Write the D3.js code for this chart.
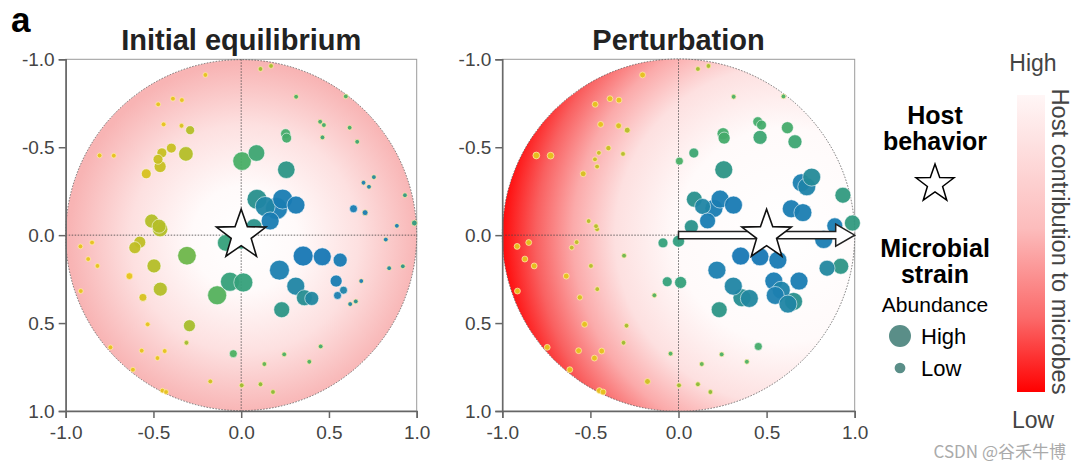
<!DOCTYPE html>
<html>
<head>
<meta charset="utf-8">
<script src="https://cdn.jsdelivr.net/npm/d3@7"></script>
<style>
  html, body { margin: 0; padding: 0; background: #fff; }
  svg { display: block; font-family: "Liberation Sans", Arial, sans-serif; }
</style>
</head>
<body>
<svg id="chart" width="1080" height="471"></svg>
<script>
// ---------------- DATA ----------------
const panelTitles = ["Initial equilibrium", "Perturbation"];
const tickValues = [-1.0, -0.5, 0.0, 0.5, 1.0];
const hostPosition = [[0, 0], [0.5, 0]];        // star position per panel
const hostShift = [0, 1.0];                      // arrow from / to (perturbation)
// each row: [x, y, hue (0 blue .. 1 yellow), abundance initial, abundance perturbed]
const yellowStrains = [
  [-0.204,-0.911,1.0,4,6], [-0.473,-0.744,1.0,4,6], [-0.389,-0.776,1.0,4,6],
  [-0.338,-0.768,1.0,4,6], [-0.442,-0.630,1.0,4,6], [-0.340,-0.622,0.95,4,6],
  [-0.291,-0.597,0.85,14,6], [-0.807,-0.453,1.0,4,8], [-0.726,-0.452,1.0,4,8],
  [-0.398,-0.495,0.9,17,5], [-0.452,-0.468,0.9,17,4], [-0.474,-0.431,0.9,17,4],
  [-0.462,-0.390,0.9,25,4], [-0.315,-0.462,0.85,37,4], [-0.541,-0.349,0.95,17,6],
  [-0.510,-0.080,0.85,34,4], [-0.462,-0.034,0.85,41,4], [-0.468,-0.051,0.85,34,4],
  [-0.578,0.040,0.88,25,4], [-0.606,0.071,0.88,25,4], [-0.916,0.064,1,4,6],
  [-0.850,0.042,1,4,6], [-0.872,0.136,1,4,6], [-0.819,0.175,1,4,6],
  [-0.914,0.318,1,4,6], [-0.637,0.233,1,8,6], [-0.497,0.175,0.85,34,4],
  [-0.560,0.354,0.95,11,5], [-0.461,0.307,0.85,34,4], [-0.533,0.507,1,4,6],
  [-0.745,0.638,1,4,6], [-0.567,0.657,1,4,6], [-0.436,0.659,1,4,6],
  [-0.477,0.699,1,4,6], [-0.617,0.765,1,4,6], [-0.449,0.884,1,4,6],
  [-0.428,0.892,1,4,6], [-0.176,0.832,0.92,4,6], [-0.295,0.515,0.82,25,4],
  [-0.312,0.612,0.8,4,4]
];
const greenStrains = [
  [0.110,-0.945,0.8,4,4], [0.170,-0.962,0.82,4,4], [0.313,-0.787,0.6,4,4],
  [0.596,-0.789,0.6,4,4], [0.005,-0.421,0.58,60,11], [0.087,-0.467,0.5,48,17],
  [0.450,-0.645,0.55,4,17], [0.471,-0.626,0.55,4,17], [0.253,-0.577,0.55,17,25],
  [0.259,-0.552,0.55,17,25], [0.463,-0.556,0.5,4,34], [0.618,-0.611,0.55,4,25],
  [0.661,-0.531,0.5,4,34], [-0.309,0.117,0.68,60,4], [-0.137,0.342,0.62,63,4],
  [-0.045,0.674,0.6,11,4], [0.003,0.854,0.8,4,4], [0.110,0.848,0.75,4,4],
  [0.181,0.892,0.75,4,4], [0.132,0.733,0.65,4,4], [0.245,0.678,0.6,4,4],
  [0.388,0.720,0.6,4,4], [0.453,0.633,0.55,4,11]
];
const tealStrains = [
  [0.257,-0.372,0.35,53,56], [0.933,-0.227,0.4,4,44], [0.987,-0.069,0.4,6,44],
  [0.090,-0.204,0.3,69,44], [0.073,-0.048,0.32,44,34], [-0.088,0.044,0.45,48,17],
  [0.000,0.034,0.42,44,25], [-0.064,0.265,0.45,63,17], [0.012,0.269,0.45,63,25],
  [0.231,0.424,0.35,44,44], [0.360,0.356,0.28,44,56], [0.653,0.377,0.3,4,56],
  [0.921,0.177,0.35,4,44]
];
const blueStrains = [
  [0.697,-0.298,0.15,4,56], [0.728,-0.275,0.18,4,56], [0.756,-0.330,0.25,4,56],
  [0.887,-0.053,0.1,4,44], [0.640,-0.150,0.1,11,56], [0.706,-0.128,0.12,6,56],
  [0.137,-0.163,0.2,69,44], [0.201,-0.152,0.1,84,56], [0.236,-0.205,0.1,69,56],
  [0.312,-0.171,0.08,56,56], [0.165,-0.081,0.1,56,44], [0.353,0.119,0.05,69,56],
  [0.462,0.123,0.05,56,56], [0.564,0.142,0.08,34,56], [0.218,0.199,0.15,69,56],
  [0.311,0.290,0.2,56,56], [0.402,0.360,0.22,34,56], [0.541,0.261,0.1,25,56],
  [0.583,0.313,0.18,11,56], [0.549,0.343,0.15,11,56], [0.684,0.261,0.1,4,56],
  [0.621,0.392,0.2,4,56], [0.824,0.025,0.1,4,56], [0.843,0.188,0.22,4,44]
];
const legendAbundance = [["High", 84], ["Low", 20]];
const colorbarLabels = ["High", "Low"];

// ---------------- DRAW ----------------
const svg = d3.select("#chart");
const defs = svg.append("defs");
const strains = [].concat(yellowStrains, greenStrains, tealStrains, blueStrains);

const hueColor = d3.scaleLinear()
  .domain([0, 0.15, 0.3, 0.45, 0.6, 0.75, 0.9, 1.0])
  .range(["#1473b6", "#1c80b0", "#288f8c", "#35a07a", "#4cb062", "#8bbb35", "#c8bf22", "#e6c31c"])
  .interpolate(d3.interpolateRgb);
const rScale = d3.scaleSqrt().domain([0, 100]).range([0, 12]);

const yScale = d3.scaleLinear().domain([-1, 1]).range([59.3, 411]);
const xScales = [
  d3.scaleLinear().domain([-1, 1]).range([65.7, 416.7]),
  d3.scaleLinear().domain([-1, 1]).range([502.3, 854.7])
];

// gradients
function radial(id, cxv, cyv, rv, stops, x) {
  const g = defs.append("radialGradient").attr("id", id)
    .attr("gradientUnits", "userSpaceOnUse")
    .attr("cx", x(cxv)).attr("cy", yScale(cyv))
    .attr("r", x(rv) - x(0));
  stops.forEach(s => g.append("stop").attr("offset", s[0]).attr("stop-color", s[1]));
}
radial("gInit", 0.02, 0.02, 1.0, [[0, "#ffffff"], [0.3, "#fffafa"], [0.65, "#fde0e0"], [1, "#f8b4b4"]], xScales[0]);
radial("gPert", 0.6, 0.0, 1.6, [[0, "#ffffff"], [0.38, "#fffafa"], [0.6, "#fde0e0"], [0.75, "#fbaaaa"], [0.88, "#f96060"], [1, "#ff0a0a"]], xScales[1]);

function starPath(cx, cy, R, r) {
  const pts = [];
  for (let i = 0; i < 10; i++) {
    const a = -Math.PI / 2 + i * Math.PI / 5;
    const rr = i % 2 === 0 ? R : r;
    pts.push([cx + rr * Math.cos(a), cy + rr * Math.sin(a)]);
  }
  return "M" + pts.map(p => p.join(",")).join("L") + "Z";
}

const fmt = d => d.toFixed(1);

[0, 1].forEach(p => {
  const x = xScales[p];
  const g = svg.append("g");
  const x0 = x(-1), x1 = x(1), y0 = yScale(-1), y1 = yScale(1);
  const cx = x(0), cy = yScale(0), R = (x1 - x0) / 2;

  // frame
  g.append("rect").attr("x", x0).attr("y", y0).attr("width", x1 - x0).attr("height", y1 - y0)
    .attr("fill", "none").attr("stroke", "#9a9a9a").attr("stroke-width", 1);

  // disc
  g.append("circle").attr("cx", cx).attr("cy", cy).attr("r", R)
    .attr("fill", p === 0 ? "url(#gInit)" : "url(#gPert)")
    .attr("stroke", "#555").attr("stroke-width", 0.8).attr("stroke-dasharray", "1.5,1.5");

  // crosshair
  g.append("line").attr("x1", cx).attr("x2", cx).attr("y1", y0).attr("y2", y1)
    .attr("stroke", "#444").attr("stroke-width", 0.8).attr("stroke-dasharray", "1.5,1.5");
  g.append("line").attr("x1", x0).attr("x2", x1).attr("y1", cy).attr("y2", cy)
    .attr("stroke", "#444").attr("stroke-width", 0.8).attr("stroke-dasharray", "1.5,1.5");

  // axes
  const ax = g.append("g").attr("transform", `translate(0,${y1})`)
    .call(d3.axisBottom(x).tickValues(tickValues).tickFormat(fmt).tickSize(7).tickPadding(4));
  const ay = g.append("g").attr("transform", `translate(${x0},0)`)
    .call(d3.axisLeft(yScale).tickValues(tickValues).tickFormat(fmt).tickSize(7).tickPadding(4));
  [ax, ay].forEach(a => {
    a.select(".domain").attr("stroke", "#666").attr("stroke-width", 1.5);
    a.selectAll(".tick line").attr("stroke", "#666").attr("stroke-width", 1.5);
    a.selectAll("text").attr("fill", "#444").style("font-size", "19px")
      .style("font-family", "'Liberation Sans', Arial, sans-serif");
  });
  ax.selectAll("text").attr("dy", "0.9em");

  // strains
  const data = strains.map(s => ({ x: s[0], y: s[1], h: s[2], a: p === 0 ? s[3] : s[4] }))
    .sort((u, v) => v.a - u.a);
  g.append("g").selectAll("circle").data(data).join("circle")
    .attr("cx", d => x(d.x)).attr("cy", d => yScale(d.y)).attr("r", d => rScale(d.a))
    .attr("fill", d => hueColor(d.h)).attr("fill-opacity", 0.95)
    .attr("stroke", d => d.a < 10 ? "rgba(255,235,170,0.75)" : "rgba(255,255,255,0.55)")
    .attr("stroke-width", 1);

  // arrow (perturbation)
  if (p === 1) {
    const ax0 = x(hostShift[0]), ax1 = x(hostShift[1]);
    const hl = 19, sh = 3.7, hh = 11;
    const path = `M${ax0},${cy - sh}L${ax1 - hl},${cy - sh}L${ax1 - hl},${cy - hh}L${ax1},${cy}` +
      `L${ax1 - hl},${cy + hh}L${ax1 - hl},${cy + sh}L${ax0},${cy + sh}Z`;
    g.append("path").attr("d", path).attr("fill", "#fff").attr("stroke", "#222").attr("stroke-width", 1.5)
      .attr("stroke-linejoin", "miter");
  }

  // host star
  const hp = hostPosition[p];
  g.append("path").attr("d", starPath(x(hp[0]), yScale(hp[1]), 26, 10.5))
    .attr("fill", "#fff").attr("stroke", "#111").attr("stroke-width", 1.6).attr("stroke-linejoin", "miter");

  // title
  svg.append("text").attr("x", cx).attr("y", 50).attr("text-anchor", "middle")
    .style("font-size", "29px").style("font-weight", "bold").attr("fill", "#222").text(panelTitles[p]);
});

// panel letter
svg.append("text").attr("x", 11).attr("y", 32).style("font-size", "35px").style("font-weight", "bold")
  .attr("fill", "#000").text("a");

// legend
const lx = 935;
const legend = svg.append("g");
[["Host", 124], ["behavior", 150]].forEach(t =>
  legend.append("text").attr("x", lx).attr("y", t[1]).attr("text-anchor", "middle")
    .style("font-size", "25px").style("font-weight", "bold").attr("fill", "#000").text(t[0]));
legend.append("path").attr("d", starPath(lx, 184, 20, 8)).attr("fill", "#fff")
  .attr("stroke", "#000").attr("stroke-width", 1.5);
[["Microbial", 257], ["strain", 283]].forEach(t =>
  legend.append("text").attr("x", lx).attr("y", t[1]).attr("text-anchor", "middle")
    .style("font-size", "25px").style("font-weight", "bold").attr("fill", "#000").text(t[0]));
legend.append("text").attr("x", lx).attr("y", 312).attr("text-anchor", "middle")
  .style("font-size", "21px").attr("fill", "#000").text("Abundance");
legendAbundance.forEach((d, i) => {
  const yy = 336 + i * 32;
  legend.append("circle").attr("cx", 900).attr("cy", yy).attr("r", rScale(d[1])).attr("fill", "#5a8e88");
  legend.append("text").attr("x", 921).attr("y", yy + 8).style("font-size", "22px").attr("fill", "#000").text(d[0]);
});

// colorbar
const cb = defs.append("linearGradient").attr("id", "cbar").attr("x1", 0).attr("y1", 0).attr("x2", 0).attr("y2", 1);
[[0, "#fff6f6"], [0.45, "#fcbcbc"], [0.75, "#fb6a6a"], [1, "#ff0000"]].forEach(s =>
  cb.append("stop").attr("offset", s[0]).attr("stop-color", s[1]));
const cbY = d3.scaleLinear().domain([0, 1]).range([95, 392]);
svg.append("rect").attr("x", 1017).attr("y", cbY(0)).attr("width", 28).attr("height", cbY(1) - cbY(0))
  .attr("fill", "url(#cbar)");
svg.append("text").attr("x", 1033).attr("y", 71).attr("text-anchor", "middle")
  .style("font-size", "23px").attr("fill", "#444").text(colorbarLabels[0]);
svg.append("text").attr("x", 1033).attr("y", 428).attr("text-anchor", "middle")
  .style("font-size", "23px").attr("fill", "#444").text(colorbarLabels[1]);
svg.append("text").attr("transform", `translate(1052,${(cbY(0) + cbY(1)) / 2 - 2}) rotate(90)`)
  .attr("text-anchor", "middle").style("font-size", "23px").attr("fill", "#444")
  .attr("textLength", 306).attr("lengthAdjust", "spacingAndGlyphs")
  .text("Host contribution to microbes");

// watermark
svg.append("text").attr("x", 1066).attr("y", 458).attr("text-anchor", "end")
  .style("font-size", "17px").style("font-family", "'Noto Sans CJK SC', 'Liberation Sans', sans-serif")
  .attr("fill", "#aaaaaa").text("CSDN @谷禾牛博");
</script>
</body>
</html>
